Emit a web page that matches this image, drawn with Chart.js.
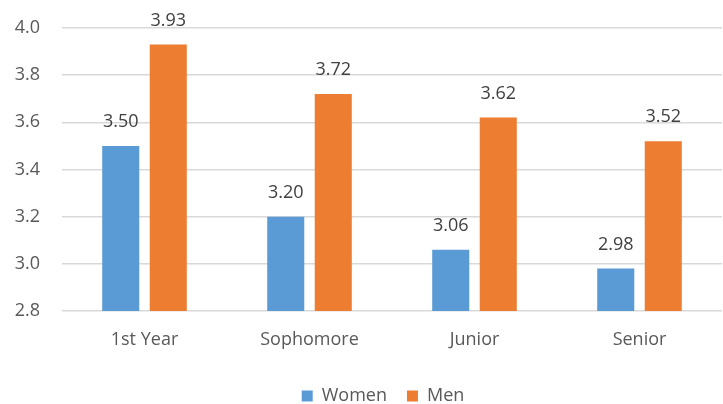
<!DOCTYPE html>
<html>
<head>
<meta charset="utf-8">
<script src="https://cdn.jsdelivr.net/npm/chart.js@4/dist/chart.umd.min.js"></script>
<style>
  html, body { margin: 0; padding: 0; background: #ffffff; }
  #wrap { width: 723px; height: 404px; }
</style>
</head>
<body>
<div id="wrap"><canvas id="c" width="723" height="404"></canvas></div>
<script>
const categories = ['1st Year', 'Sophomore', 'Junior', 'Senior'];
const women = [3.50, 3.20, 3.06, 2.98];
const men = [3.93, 3.72, 3.62, 3.52];
const yTicks = [2.8, 3.0, 3.2, 3.4, 3.6, 3.8, 4.0];

const FONT = '"Open Sans", "DejaVu Sans", sans-serif';
const TEXT = '#595959';
const PLOT_TOP = 28;
const PLOT_LEFT = 62;
const PLOT_BOTTOM = 311;
const LEGEND_OFFSET_X = 22;
const LEGEND_SHIFT = -11;

// Writes each bar's value above it
const valueLabels = {
  id: 'valueLabels',
  afterDatasetsDraw(chart) {
    const ctx = chart.ctx;
    ctx.save();
    ctx.font = '18px ' + FONT;
    ctx.fillStyle = '#404040';
    ctx.textAlign = 'center';
    ctx.textBaseline = 'alphabetic';
    chart.data.datasets.forEach((ds, i) => {
      chart.getDatasetMeta(i).data.forEach((bar, j) => {
        ctx.fillText(ds.data[j].toFixed(2), bar.x, bar.y - 19);
      });
    });
    ctx.restore();
  }
};

// Centres the legend under the plot area rather than the whole canvas
const legendOffset = {
  id: 'legendOffset',
  afterLayout(chart) {
    if (chart.legend) {
      chart.legend.left += LEGEND_OFFSET_X;
      chart.legend.right += LEGEND_OFFSET_X;
    }
  }
};

new Chart(document.getElementById('c'), {
  type: 'bar',
  data: {
    labels: categories,
    datasets: [
      { label: 'Women', data: women, backgroundColor: '#5B9BD5', categoryPercentage: 0.576, barPercentage: 0.78 },
      { label: 'Men', data: men, backgroundColor: '#ED7D31', categoryPercentage: 0.576, barPercentage: 0.78 }
    ]
  },
  options: {
    responsive: false,
    animation: false,
    layout: { padding: { top: PLOT_TOP, left: 0, right: 1, bottom: LEGEND_SHIFT } },
    plugins: {
      legend: {
        position: 'bottom',
        labels: {
          font: { family: FONT, size: 18 },
          color: TEXT,
          boxWidth: 11,
          boxHeight: 11,
          padding: 20
        }
      },
      tooltip: { enabled: false }
    },
    scales: {
      x: {
        grid: { display: false },
        border: { display: false },
        ticks: { font: { family: FONT, size: 18 }, color: TEXT, padding: 10 },
        afterFit(s) {
          s.paddingLeft = 0;
          s.paddingRight = 0;
          const lh = s.chart.legend ? s.chart.legend.height : 0;
          s.height = s.chart.height - PLOT_BOTTOM - lh - LEGEND_SHIFT;
        }
      },
      y: {
        min: 2.8,
        max: 4.0,
        afterBuildTicks(s) { s.ticks = yTicks.map(v => ({ value: v })); },
        grid: { color: '#d9d9d9', lineWidth: 1.5, drawTicks: false },
        border: { display: false },
        ticks: {
          font: { family: FONT, size: 18 },
          color: TEXT,
          padding: 22,
          callback: v => v.toFixed(1)
        },
        afterFit(s) {
          s.width = PLOT_LEFT;
          s.paddingTop = 0;
          s.paddingBottom = 0;
        }
      }
    }
  },
  plugins: [valueLabels, legendOffset]
});
</script>
</body>
</html>
